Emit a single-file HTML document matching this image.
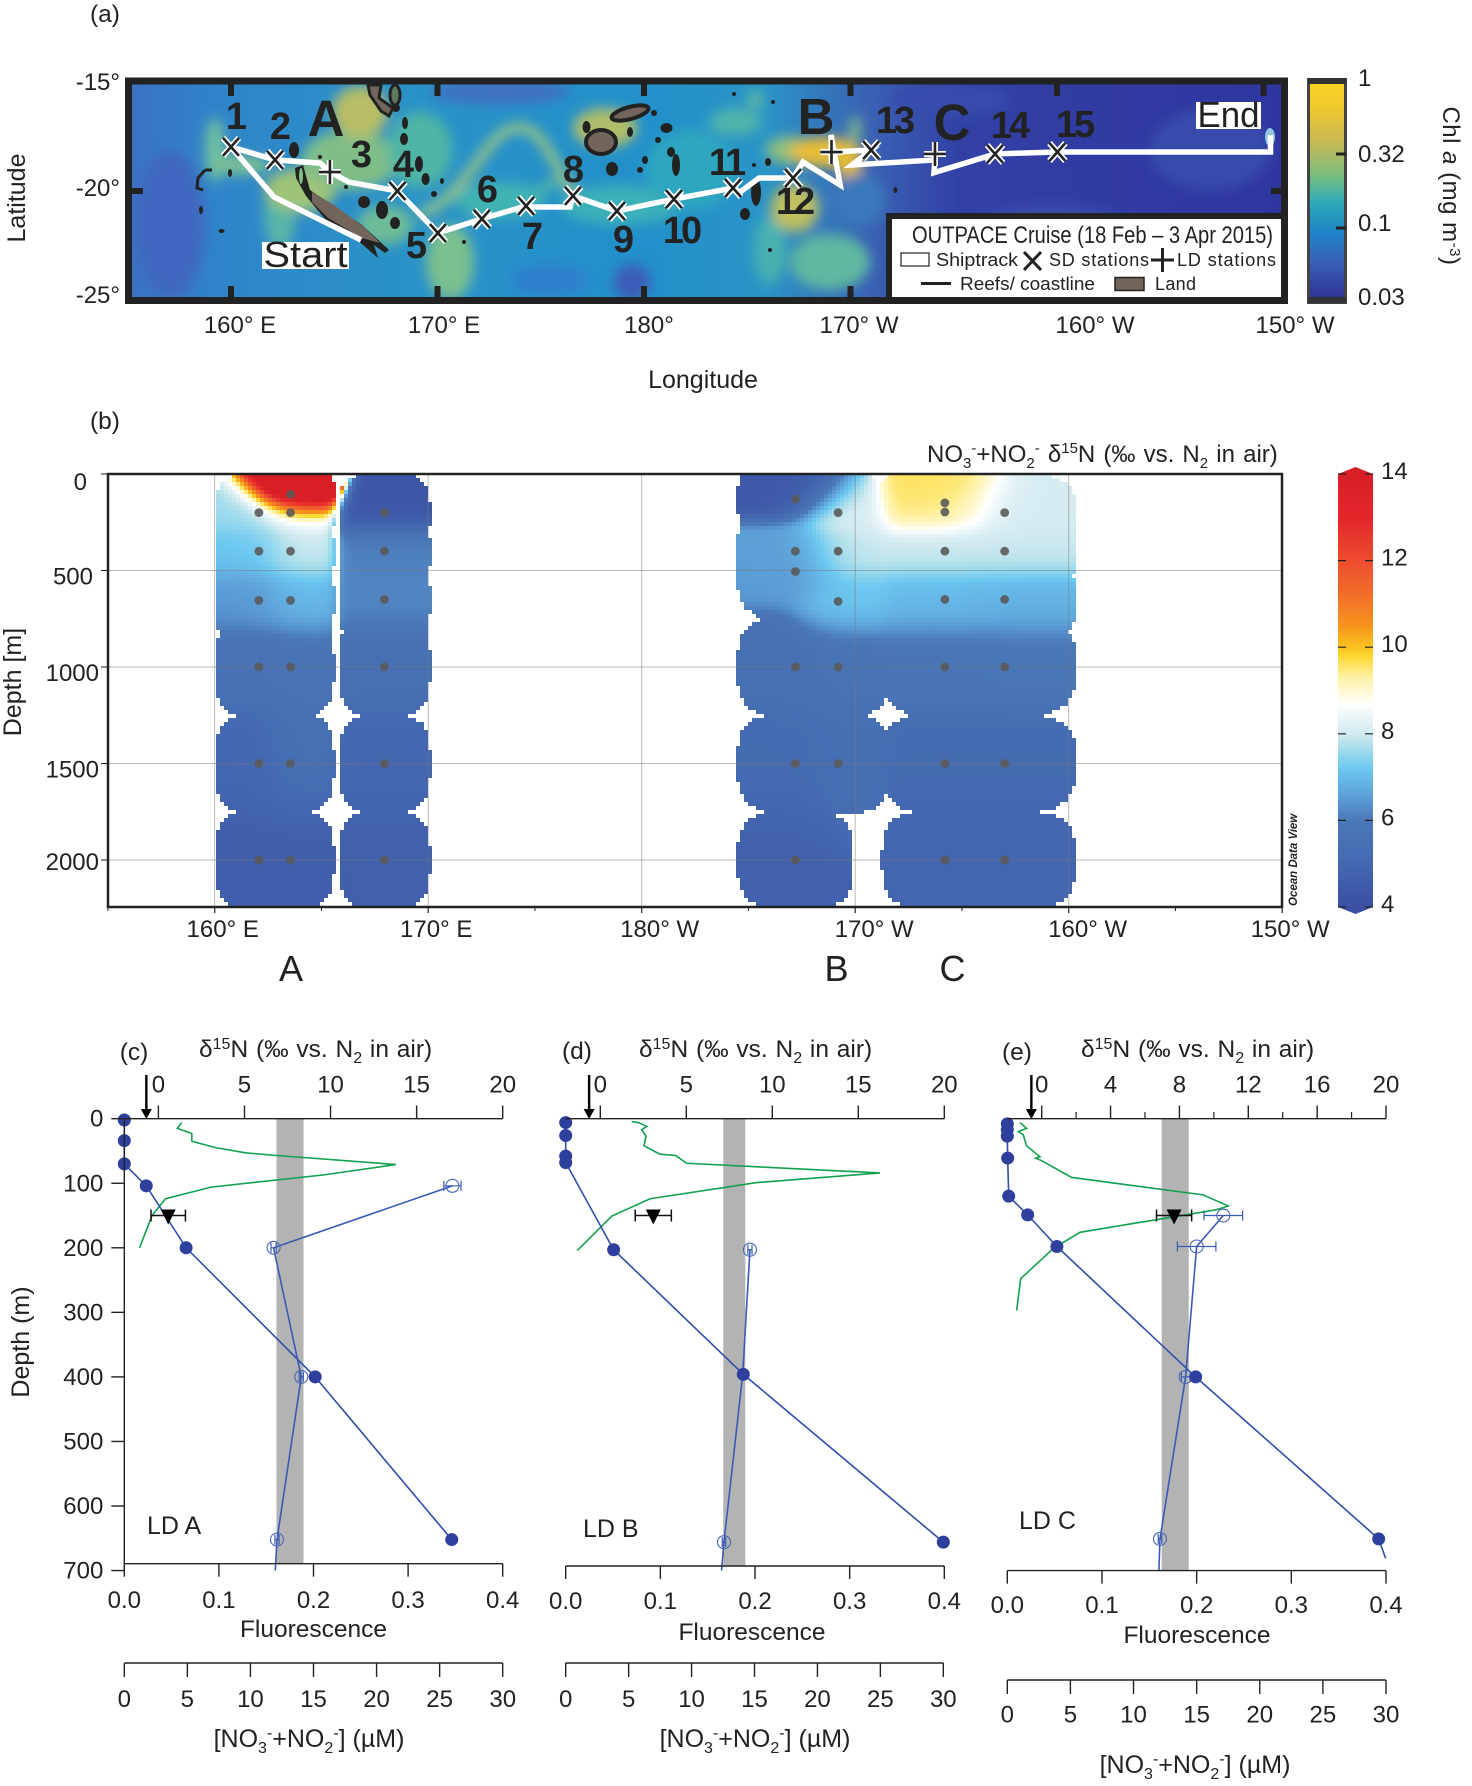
<!DOCTYPE html>
<html lang="en">
<head>
<meta charset="utf-8">
<title>OUTPACE cruise chlorophyll map and nitrate isotope profiles</title>
<style>
html,body{margin:0;padding:0;background:#fff;width:1472px;height:1786px;overflow:hidden}
svg{display:block}
text{font-family:"Liberation Sans",sans-serif;fill:#222}
</style>
</head>
<body>
<svg xmlns="http://www.w3.org/2000/svg" width="1472" height="1786" viewBox="0 0 1472 1786">
<defs>
<filter id="blurA" x="-30%" y="-30%" width="160%" height="160%"><feGaussianBlur stdDeviation="6"/></filter>
<clipPath id="mapClip"><rect x="132" y="84" width="1150" height="213"/></clipPath>
<clipPath id="sectionClip"><rect x="108" y="474" width="1174" height="433"/></clipPath>
<linearGradient id="mapBase" x1="0" x2="1" y1="0" y2="0">
<stop offset="0" stop-color="#3b72c2"/><stop offset="0.07" stop-color="#2f84c9"/><stop offset="0.24" stop-color="#2a92c8"/><stop offset="0.45" stop-color="#2290ca"/><stop offset="0.55" stop-color="#2a94c6"/><stop offset="0.64" stop-color="#3a62b4"/><stop offset="0.72" stop-color="#3240a4"/><stop offset="1" stop-color="#3036a0"/>
</linearGradient>
<linearGradient id="chlGradient" x1="0" x2="0" y1="0" y2="1">
<stop offset="0" stop-color="#fdd21f"/><stop offset="0.12" stop-color="#f0c92e"/><stop offset="0.28" stop-color="#c9b855"/><stop offset="0.42" stop-color="#7fbf7b"/><stop offset="0.55" stop-color="#2fabb5"/><stop offset="0.68" stop-color="#1f86c9"/><stop offset="0.82" stop-color="#3a5fb8"/><stop offset="1" stop-color="#2f2f8f"/>
</linearGradient>
</defs>

<!-- PANEL A -->
<text x="105" y="22" font-size="24.500" text-anchor="middle">(a)</text>
<g clip-path="url(#mapClip)">
<rect x="132" y="84" width="1150" height="213" fill="url(#mapBase)"/>
<g filter="url(#blurA)">
<ellipse cx="170" cy="225" rx="35" ry="75" fill="#3f68c0"/>
<ellipse cx="500" cy="92" rx="70" ry="12" fill="#3f6fc0"/>
<ellipse cx="215" cy="150" rx="10" ry="32" fill="#6fc0a0"/>
<ellipse cx="240" cy="165" rx="30" ry="10" fill="#7cc095"/>
<ellipse cx="280" cy="215" rx="16" ry="35" fill="#58b5a8"/>
<ellipse cx="300" cy="190" rx="36" ry="22" fill="#9fc478"/>
<ellipse cx="350" cy="160" rx="48" ry="30" fill="#80be88"/>
<ellipse cx="360" cy="112" rx="28" ry="26" fill="#b8bd66"/>
<ellipse cx="420" cy="150" rx="32" ry="38" fill="#4fb5a5"/>
<ellipse cx="450" cy="262" rx="24" ry="38" fill="#7bbf90"/>
<ellipse cx="385" cy="225" rx="28" ry="20" fill="#6dbb98"/>
<path d="M420 215C470 195 485 132 515 128S550 165 580 200" stroke="#9cc682" stroke-width="9" fill="none"/>
<path d="M470 220C500 210 520 200 560 180" stroke="#5cb8a0" stroke-width="8" fill="none"/>
<ellipse cx="605" cy="128" rx="32" ry="20" fill="#b0bd6a"/>
<ellipse cx="620" cy="205" rx="60" ry="20" fill="#3bb0b8"/>
<ellipse cx="500" cy="200" rx="45" ry="18" fill="#3fb3b4"/>
<ellipse cx="690" cy="170" rx="45" ry="40" fill="#2ea6c0"/>
<ellipse cx="735" cy="122" rx="26" ry="14" fill="#4fb3ac"/>
<ellipse cx="755" cy="100" rx="8" ry="10" fill="#5cb6a4"/>
<ellipse cx="790" cy="150" rx="24" ry="14" fill="#8cc080"/>
<ellipse cx="830" cy="262" rx="40" ry="28" fill="#5fb8a0"/>
<ellipse cx="770" cy="250" rx="16" ry="34" fill="#48b0b0"/>
<ellipse cx="795" cy="208" rx="24" ry="24" fill="#c0c060"/>
<ellipse cx="825" cy="152" rx="36" ry="15" fill="#e8bc35"/>
<ellipse cx="850" cy="165" rx="12" ry="20" fill="#e2b93a"/>
<ellipse cx="855" cy="130" rx="6" ry="14" fill="#80b888"/>
<ellipse cx="632" cy="282" rx="18" ry="18" fill="#3e5cb8"/>
<ellipse cx="550" cy="280" rx="40" ry="16" fill="#2f80cc"/>
<ellipse cx="860" cy="200" rx="26" ry="26" fill="#3a78bb"/>
<ellipse cx="1050" cy="225" rx="70" ry="20" fill="#3a4dac"/>
<ellipse cx="950" cy="100" rx="60" ry="16" fill="#394bac"/>
<ellipse cx="1210" cy="150" rx="60" ry="40" fill="#394bac"/>
</g>
<g fill="#222">
<path d="M205 170L198 178L197 188L203 190M205 170L212 170" stroke="#222" stroke-width="3" fill="none"/>
<ellipse cx="201" cy="210" rx="2" ry="4"/><ellipse cx="221.500" cy="231" rx="3" ry="2"/><ellipse cx="230" cy="173" rx="2" ry="4"/>
<ellipse cx="294" cy="150" rx="5" ry="8"/><ellipse cx="320" cy="157" rx="2" ry="2"/><ellipse cx="346" cy="187" rx="2" ry="2"/>
<ellipse cx="364" cy="202" rx="6" ry="6"/><ellipse cx="382" cy="210" rx="6" ry="9"/><ellipse cx="395" cy="223" rx="5" ry="6"/>
<ellipse cx="419" cy="164" rx="4" ry="8"/><ellipse cx="425.600" cy="179" rx="4" ry="6"/><ellipse cx="442" cy="181" rx="2" ry="3"/>
<ellipse cx="434" cy="194" rx="3" ry="3"/><ellipse cx="464" cy="242" rx="2" ry="2"/><ellipse cx="405" cy="123" rx="3" ry="6"/>
<ellipse cx="404" cy="139" rx="4" ry="6"/><ellipse cx="396" cy="108" rx="4" ry="4"/>
<ellipse cx="645" cy="160" rx="3" ry="4"/><ellipse cx="676" cy="165" rx="4" ry="11"/>
<ellipse cx="640" cy="170" rx="3" ry="3"/><ellipse cx="666.500" cy="128" rx="6" ry="5"/><ellipse cx="630" cy="132" rx="3" ry="5"/>
<ellipse cx="671" cy="152" rx="4" ry="5"/><ellipse cx="654" cy="113" rx="3" ry="3"/><ellipse cx="658" cy="140" rx="3" ry="3"/>
<ellipse cx="734" cy="94" rx="2" ry="2"/><ellipse cx="756" cy="192" rx="5" ry="14"/><ellipse cx="745" cy="214" rx="5" ry="6"/>
<ellipse cx="768" cy="162" rx="3" ry="4"/><ellipse cx="754" cy="165" rx="2" ry="2"/><ellipse cx="773" cy="102" rx="2" ry="2"/>
<ellipse cx="895.500" cy="190" rx="2" ry="3"/><ellipse cx="770" cy="250" rx="2" ry="2"/><ellipse cx="586.500" cy="127" rx="4" ry="6"/>
<ellipse cx="612" cy="169" rx="6" ry="7"/>
</g>
<polygon points="295,168 303,165 310,190 332,205 362,225 389,250 385,253 374,245 378,258 370,251 355,238 326,220 306,196 296,178" fill="#222"/>
<polygon points="312,192 334,205 364,227 380,243 362,238 328,218 312,202" fill="#73655c"/>
<ellipse cx="301" cy="176" rx="2" ry="8" fill="#7fbf8a"/>
<polygon points="368,85 381,85 379,98 393,108 389,116 381,111 370,95" fill="#73655c" stroke="#222" stroke-width="3"/>
<ellipse cx="395" cy="95" rx="5" ry="10" fill="#5b7a5c" stroke="#222" stroke-width="3"/>
<ellipse cx="601" cy="142" rx="15" ry="12" fill="#73655c" stroke="#222" stroke-width="4"/>
<ellipse cx="630" cy="113" rx="19" ry="6" transform="rotate(-15 630 113)" fill="#73655c" stroke="#222" stroke-width="4"/>
<ellipse cx="1270" cy="137" rx="5" ry="9" fill="#a8e8f0" opacity="0.8"/>
<g id="map-track-layer"></g>
</g>
<g id="map-ticks"></g>
<rect x="128.500" y="81" width="1156" height="219.500" fill="none" stroke="#222" stroke-width="7"/>

<g font-weight="bold" font-size="38" letter-spacing="-3" text-anchor="middle">
<text x="235" y="129">1</text>
<text x="279" y="139">2</text>
<text x="360" y="167">3</text>
<text x="402" y="177">4</text>
<text x="415" y="258">5</text>
<text x="486" y="202">6</text>
<text x="531" y="249">7</text>
<text x="572" y="182">8</text>
<text x="622" y="252">9</text>
<text x="681" y="243">10</text>
<text x="726" y="175">11</text>
<text x="794" y="214">12</text>
<text x="894" y="133">13</text>
<text x="1009" y="138">14</text>
<text x="1074" y="137">15</text>
</g>
<g font-weight="bold" font-size="51" text-anchor="middle" fill="#222">
<text x="326" y="136">A</text>
<text x="816" y="134">B</text>
<text x="952" y="140">C</text>
</g>
<rect x="262" y="242" width="87" height="27" fill="#fff"/>
<text x="305.500" y="267" font-size="36" text-anchor="middle" textLength="84" lengthAdjust="spacingAndGlyphs">Start</text>
<rect x="1196" y="102" width="65" height="27" fill="#fff"/>
<text x="1228.500" y="127" font-size="36" text-anchor="middle" textLength="62" lengthAdjust="spacingAndGlyphs">End</text>

<g>
<rect x="889" y="216" width="395" height="84" fill="#fff" stroke="#222" stroke-width="6"/>
<text x="912" y="243" font-size="24" textLength="361" lengthAdjust="spacingAndGlyphs">OUTPACE Cruise (18 Feb – 3 Apr 2015)</text>
<rect x="901" y="253" width="28" height="13" fill="#fff" stroke="#222" stroke-width="1.200"/>
<text x="936" y="266" font-size="18" textLength="82" lengthAdjust="spacingAndGlyphs">Shiptrack</text>
<path d="M1024 252L1041 270M1041 252L1024 270" stroke="#222" stroke-width="3"/>
<text x="1049" y="266" font-size="18" textLength="100" lengthAdjust="spacing">SD stations</text>
<path d="M1151 260H1174M1162.500 248V272" stroke="#222" stroke-width="3"/>
<text x="1177" y="266" font-size="18" textLength="99" lengthAdjust="spacing">LD stations</text>
<path d="M921 283.500H951" stroke="#222" stroke-width="3"/>
<text x="960" y="290" font-size="18" textLength="135" lengthAdjust="spacingAndGlyphs">Reefs/ coastline</text>
<rect x="1115" y="277.500" width="29" height="13" fill="#73655c" stroke="#222" stroke-width="1.500"/>
<text x="1155" y="290" font-size="18" textLength="41" lengthAdjust="spacing">Land</text>
</g>

<g font-size="24" text-anchor="end">
<text x="120" y="90">-15°</text>
<text x="120" y="196">-20°</text>
<text x="120" y="303">-25°</text>
</g>
<g font-size="24" text-anchor="middle">
<text x="240" y="333">160° E</text>
<text x="444" y="333">170° E</text>
<text x="649" y="333">180°</text>
<text x="859" y="333">170° W</text>
<text x="1095" y="333">160° W</text>
<text x="1295" y="333">150° W</text>
</g>
<text transform="translate(25,198) rotate(-90)" font-size="25" text-anchor="middle">Latitude</text>
<text x="703" y="388" font-size="25" text-anchor="middle">Longitude</text>

<rect x="1308.500" y="79.500" width="37" height="223" fill="url(#chlGradient)" stroke="#444" stroke-width="3"/>
<rect x="1308" y="78" width="38" height="6" fill="#333"/>
<rect x="1308" y="297" width="38" height="6" fill="#333"/>
<path d="M1336 154H1346M1336 228H1346" stroke="#222" stroke-width="3"/>
<g font-size="24">
<text x="1358" y="86">1</text>
<text x="1358" y="162">0.32</text>
<text x="1358" y="231">0.1</text>
<text x="1358" y="305">0.03</text>
</g>
<text transform="translate(1443,186) rotate(90)" font-size="24" text-anchor="middle" letter-spacing="0.5">Chl <tspan font-style="italic">a</tspan> (mg m<tspan dy="-7" font-size="15">-3</tspan><tspan dy="7">)</tspan></text>

<!-- PANEL B -->
<text x="105" y="429" font-size="24.500" text-anchor="middle">(b)</text>
<text x="927" y="462" font-size="24" word-spacing="1.500">NO<tspan dy="6" font-size="15">3</tspan><tspan dy="-15" font-size="15">-</tspan><tspan dy="9">+NO</tspan><tspan dy="6" font-size="15">2</tspan><tspan dy="-15" font-size="15">-</tspan><tspan dy="9"> δ</tspan><tspan dy="-9" font-size="15">15</tspan><tspan dy="9">N (‰ vs. N</tspan><tspan dy="6" font-size="15">2</tspan><tspan dy="-6"> in air)</tspan></text>
<g id="section-cells" clip-path="url(#sectionClip)"></g>
<g id="section-grid"></g>
<g id="section-dots"></g>
<rect x="108" y="474" width="1174" height="433" fill="none" stroke="#222" stroke-width="2.500"/>
<g id="section-axes"></g>
<text transform="translate(1297,906) rotate(-90)" font-size="11.500" font-weight="bold" font-style="italic">Ocean Data View</text>
<text transform="translate(21,682) rotate(-90)" font-size="25" text-anchor="middle">Depth [m]</text>
<g font-size="36" text-anchor="middle">
<text x="291" y="981">A</text>
<text x="836.500" y="981">B</text>
<text x="952.500" y="981">C</text>
</g>
<g id="section-colorbar"></g>

<!-- PANELS C D E -->
<g id="profile-c"></g>
<g id="profile-d"></g>
<g id="profile-e"></g>

<g font-size="24.500">
<text x="134" y="1060" text-anchor="middle">(c)</text>
<text x="577" y="1059" text-anchor="middle">(d)</text>
<text x="1017" y="1060" text-anchor="middle">(e)</text>
<text x="199" y="1057" word-spacing="1">δ<tspan dy="-8" font-size="16">15</tspan><tspan dy="8">N (‰ vs. N</tspan><tspan dy="6" font-size="16">2</tspan><tspan dy="-6"> in air)</tspan></text>
<text x="639" y="1057" word-spacing="1">δ<tspan dy="-8" font-size="16">15</tspan><tspan dy="8">N (‰ vs. N</tspan><tspan dy="6" font-size="16">2</tspan><tspan dy="-6"> in air)</tspan></text>
<text x="1081" y="1057" word-spacing="1">δ<tspan dy="-8" font-size="16">15</tspan><tspan dy="8">N (‰ vs. N</tspan><tspan dy="6" font-size="16">2</tspan><tspan dy="-6"> in air)</tspan></text>
<text x="313.500" y="1637" text-anchor="middle">Fluorescence</text>
<text x="752" y="1640" text-anchor="middle">Fluorescence</text>
<text x="1197" y="1643" text-anchor="middle">Fluorescence</text>
<text x="309" y="1747" font-size="25" text-anchor="middle">[NO<tspan dy="6" font-size="16">3</tspan><tspan dy="-15" font-size="16">-</tspan><tspan dy="9">+NO</tspan><tspan dy="6" font-size="16">2</tspan><tspan dy="-15" font-size="16">-</tspan><tspan dy="9">] (µM)</tspan></text>
<text x="755" y="1747" font-size="25" text-anchor="middle">[NO<tspan dy="6" font-size="16">3</tspan><tspan dy="-15" font-size="16">-</tspan><tspan dy="9">+NO</tspan><tspan dy="6" font-size="16">2</tspan><tspan dy="-15" font-size="16">-</tspan><tspan dy="9">] (µM)</tspan></text>
<text x="1195" y="1773" font-size="25" text-anchor="middle">[NO<tspan dy="6" font-size="16">3</tspan><tspan dy="-15" font-size="16">-</tspan><tspan dy="9">+NO</tspan><tspan dy="6" font-size="16">2</tspan><tspan dy="-15" font-size="16">-</tspan><tspan dy="9">] (µM)</tspan></text>
<text x="147" y="1534" font-size="25">LD A</text>
<text x="583" y="1537" font-size="25">LD B</text>
<text x="1019" y="1529" font-size="25">LD C</text>
<text transform="translate(29,1342) rotate(-90)" font-size="25" text-anchor="middle">Depth (m)</text>
</g>
</svg>

<script>
/* ---------- Panel (a) data ---------- */
const trackLon=[166.3,162.08,160,162.13,164.31,164.79,165.71,168.06,170.02,172.15,174.29,174.63,176.42,176.56,178.69,181.45,184.31,184.65,185.57,187.22,187.7,189.5,189.06,189.08,191,190.07,194.09,194.04,197,200.02,210.34,210.34];
const trackLat=[-22.3,-20.28,-17.93,-18.54,-18.69,-19.11,-19.58,-20,-21.97,-21.31,-20.7,-20.75,-20.75,-20.23,-20.94,-20.38,-19.86,-20.05,-19.39,-19.39,-18.64,-19.72,-17.37,-18.17,-18.08,-18.78,-18.54,-19.14,-18.26,-18.17,-18.17,-17.37];
const sdLon=[160,162.13,168.06,170.02,172.15,174.29,176.56,178.69,181.45,184.31,187.22,191,197,200.02];
const sdLat=[-17.93,-18.54,-20,-21.97,-21.31,-20.7,-20.23,-20.94,-20.38,-19.86,-19.39,-18.08,-18.26,-18.17];
const ldLon=[164.79,189.08,194.09];
const ldLat=[-19.11,-18.17,-18.26];
const mapLonTicks=[160,170,180,190,200,210];

/* ---------- Panel (b) data (one sub-array per station) ---------- */
const sectionLon=[162.07,163.55,167.95,187.2,189.2,194.2,197];
const sectionLonScale=[2.05,2.05,2.15,2.72,2.45,2.95,3.35];
const sectionDepths=[
 [200,400,655,1000,1500,2000],
 [105,200,400,655,1000,1500,2000],
 [200,400,650,1000,1500,2000],
 [130,400,505,1000,1500,2000],
 [200,400,660,1000,1500],
 [150,197,400,650,1000,1500,2000],
 [200,400,650,1000,1500,2000]];
const sectionValues=[
 [7.6,7.2,6.5,5.6,5.0,4.6],
 [18,8.6,8.0,7.0,5.7,5.5,4.6],
 [4.3,6.1,6.2,5.5,5.0,4.7],
 [4.4,6.6,6.5,5.5,5.2,4.7],
 [8.2,8.0,7.2,5.7,5.4],
 [9.7,9.3,8.0,7.0,5.8,5.2,4.9],
 [8.1,8.0,6.9,5.9,5.2,4.9]];
const sectionDepthTicks=[0,500,1000,1500,2000];
const sectionLonTicks=[160,170,180,190,200,210];
const sectionLonLabels=['160° E','170° E','180° W','170° W','160° W','150° W'];
const colorbarTicks=[4,6,8,10,12,14];
const scaleValues=[4,5,6,6.5,7.2,7.8,8,8.7,9.3,9.8,10,10.5,11.3,12,13,14];
const scaleColors=['#3a4fa3','#4468b0','#4a78b8','#5b9bd5','#6cc8f0','#b5e2ec','#cfe9ef','#ffffff','#fff2a8','#fdd835','#fbc31f','#f7941d','#f26a2a','#ee4d2e','#e4262a','#d81f26'];

/* ---------- Panels (c)(d)(e) data ---------- */
const depthTicks=[0,100,200,300,400,500,600,700];
const fluorTicks=[0,0.1,0.2,0.3,0.4];
const nitrateTicks=[0,5,10,15,20,25,30];
const deltaTicksCD=[0,5,10,15,20];
const deltaTicksE=[0,4,8,12,16,20];
const deltaMinorE=[2,6,10,14,18];

const cNitrateDepth=[2,34,70,104,200,400,652];
const cNitrate=[0,0,0,1.74,4.9,15.13,25.96];
const cDeltaDepth=[104,200,400,652,700];
const cDelta=[17.08,6.69,8.3,6.89,6.79];
const cDeltaErr=[0.5,0.15,0.12,0.12];
const cFluorDepth=[6,15,23,35,45,53,57,71,87,106,124,150,200];
const cFluor=[0.0607,0.0561,0.0714,0.0714,0.0971,0.129,0.161,0.287,0.211,0.0918,0.0436,0.0293,0.0161];
const cBand=[6.86,8.43];
const cSurface=[0.57,150,1.0];
const cArrow=-0.7;

const dNitrateDepth=[6,26,58,68,203,396,656];
const dNitrate=[0,0,0,0,3.81,14.11,30];
const dDeltaDepth=[203,396,656,700];
const dDelta=[8.7,8.28,7.19,7.05];
const dDeltaErr=[0.12,0,0.1];
const dFluorDepth=[4.5,6,12,17,27,42,55,57,69,84,99,124,151,204];
const dFluor=[0.0697,0.0768,0.0856,0.0803,0.0849,0.0827,0.0996,0.1162,0.1278,0.332,0.2018,0.0891,0.0486,0.0123];
const dBand=[7.15,8.43];
const dSurface=[3.08,150,1.05];
const dArrow=-0.65;

const eNitrateDepth=[8,17,27,61,120,149,198,400,651,681];
const eNitrate=[0,0,0,0.03,0.11,1.61,3.93,14.92,29.42,29.97];
const eDeltaDepth=[150,198,400,651,700];
const eDelta=[10.55,9.0,8.36,6.87,6.81];
const eDeltaErr=[1.12,1.12,0.25,0.1];
const eFluorDepth=[6,15,20,25,42,59,61,65,91,118,121,135,141,176,201,248,297];
const eFluor=[0.0134,0.0204,0.0116,0.0169,0.0204,0.0345,0.0299,0.0363,0.068,0.207,0.2113,0.2335,0.2211,0.0768,0.0486,0.0141,0.0099];
const eBand=[6.97,8.54];
const eSurface=[7.69,150,1.02];
const eArrow=-0.6;

const NS='http://www.w3.org/2000/svg';
function node(parent,tag,attrs,txt){
  const n=document.createElementNS(NS,tag);
  for(const k in attrs){n.setAttribute(k,attrs[k]);}
  if(txt!==undefined){n.textContent=txt;}
  parent.appendChild(n);
  return n;
}
let el;

/* ---------- Panel (a) drawing ---------- */
const mapX=lon=>231+(lon-160)*20.65;
const mapY=lat=>191+(-20-lat)*21.3;
const trackLayer=document.getElementById('map-track-layer');
el=node(trackLayer,'polyline',{points:trackLon.map((v,i)=>mapX(v)+','+mapY(trackLat[i])).join(' '),fill:'none',stroke:'#fff','stroke-width':5.5,'stroke-linejoin':'miter'});


sdLon.forEach((lon,i)=>{
  const x=mapX(lon),y=mapY(sdLat[i]);
  const d=`M${x-8} ${y-9}L${x+8} ${y+9}M${x+8} ${y-9}L${x-8} ${y+9}`;
  node(trackLayer,'path',{d:d,stroke:'#fff','stroke-width':6,fill:'none'});
  el=node(trackLayer,'path',{d:d,stroke:'#222','stroke-width':2.6,fill:'none'});
  
  
});
ldLon.forEach((lon,i)=>{
  const x=mapX(lon),y=mapY(ldLat[i]);
  const d=`M${x-11} ${y}H${x+11}M${x} ${y-12}V${y+12}`;
  node(trackLayer,'path',{d:d,stroke:'#fff','stroke-width':6,fill:'none'});
  el=node(trackLayer,'path',{d:d,stroke:'#222','stroke-width':2.6,fill:'none'});
  
  
});
const mapTicks=document.getElementById('map-ticks');
mapLonTicks.forEach(lon=>{
  const x=mapX(lon);
  el=node(mapTicks,'path',{d:`M${x} 84V96M${x} 286V297`,stroke:'#222','stroke-width':6});
  
  
});
el=node(mapTicks,'path',{d:`M132 ${mapY(-20)}H143M1271 ${mapY(-20)}H1282`,stroke:'#222','stroke-width':6});



/* ---------- Panel (b) drawing ---------- */
const secX=lon=>214.7+(lon-160)*21.35;
const secY=d=>474+d*0.193;
function hex(h){return [parseInt(h.slice(1,3),16),parseInt(h.slice(3,5),16),parseInt(h.slice(5,7),16)];}
function scaleColor(v){
  if(v<=scaleValues[0]){return scaleColors[0];}
  for(let i=1;i<scaleValues.length;i++){
    if(v<=scaleValues[i]){
      const t=(v-scaleValues[i-1])/(scaleValues[i]-scaleValues[i-1]);
      const a=hex(scaleColors[i-1]),b=hex(scaleColors[i]);
      return 'rgb('+a.map((c,k)=>Math.round(c+(b[k]-c)*t)).join(',')+')';
    }
  }
  return scaleColors[scaleColors.length-1];
}
const samples=[];
sectionLon.forEach((lon,i)=>{
  const rx=sectionLonScale[i]*21.35;
  sectionDepths[i].forEach((d,j)=>{
    samples.push({x:secX(lon),y:secY(d),rx:rx,ry:d<300?40:(d>=1000?50:49),sy:14+d*0.024,v:sectionValues[i][j]});
  });
});
const cellLayer=document.getElementById('section-cells');
const CELL=4;
for(let py=474;py<907;py+=CELL){
  for(let px=108;px<1282;px+=CELL){
    const cx=px+CELL/2,cy=py+CELL/2;
    let inside=false,sw=0,sv=0;
    for(const s of samples){
      const dx=cx-s.x,dy=cy-s.y;
      if(!inside&&Math.pow(Math.abs(dx/s.rx),3.2)+Math.pow(Math.abs(dy/s.ry),3.2)<1){inside=true;}
      const hx=dx/(s.rx*0.6),hy=dy/s.sy;
      const w=Math.exp(-(hx*hx+hy*hy));
      sw+=w;sv+=w*s.v;
    }
    if(!inside||sw<=0){continue;}
    el=node(cellLayer,'rect',{x:px,y:py,width:CELL,height:CELL,fill:scaleColor(sv/sw),'shape-rendering':'crispEdges'});
    
    
  }
}
const gridLayer=document.getElementById('section-grid');
sectionLonTicks.slice(0,5).forEach(lon=>{
  el=node(gridLayer,'line',{x1:secX(lon),x2:secX(lon),y1:474,y2:907,stroke:'#777','stroke-opacity':0.5,'stroke-width':1});
  
  
});
sectionDepthTicks.slice(1).forEach(d=>{
  el=node(gridLayer,'line',{x1:108,x2:1282,y1:secY(d),y2:secY(d),stroke:'#777','stroke-opacity':0.5,'stroke-width':1});
  
  
});
const dotLayer=document.getElementById('section-dots');
samples.forEach(s=>{
  el=node(dotLayer,'circle',{cx:s.x,cy:s.y,r:4.4,fill:'#5a5a5a','fill-opacity':0.9});
  
  
});
const secAxes=document.getElementById('section-axes');
sectionLonTicks.forEach((lon,i)=>{
  el=node(secAxes,'line',{x1:secX(lon),x2:secX(lon),y1:907,y2:913,stroke:'#222','stroke-width':1.2});
  
  
  el=node(secAxes,'text',{x:secX(lon)+(i<2?8:(i===2?18:(i===5?8:19))),y:937,'font-size':24,'text-anchor':'middle'},sectionLonLabels[i]);
  
  
});
sectionLonTicks.slice(0,5).forEach(lon=>{
  el=node(secAxes,'line',{x1:secX(lon+5),x2:secX(lon+5),y1:907,y2:911,stroke:'#222','stroke-width':1});
  
  
});
el=node(secAxes,'line',{x1:secX(155),x2:secX(155),y1:907,y2:911,stroke:'#222','stroke-width':1});


sectionDepthTicks.forEach(d=>{
  el=node(secAxes,'line',{x1:101,x2:108,y1:secY(d),y2:secY(d),stroke:'#222','stroke-width':1});
  
  
  const s=String(d);
  el=node(secAxes,'text',{x:99-6*Math.min(2,4-s.length),y:secY(d)+(d===2000?10:(d===0?16:14)),'font-size':24,'text-anchor':'end'},s);
  
  
});
const cbar=document.getElementById('section-colorbar');
const cbarY=v=>907-(v-4)*43.3;
for(let v=4;v<14;v+=0.08){
  el=node(cbar,'rect',{x:1338,y:cbarY(v+0.08),width:35,height:43.3*0.08+0.6,fill:scaleColor(v+0.04),'shape-rendering':'crispEdges'});
  
  
}
el=node(cbar,'polygon',{points:'1338,474 1355.500,467 1373,474',fill:scaleColors[15]});


el=node(cbar,'polygon',{points:'1338,907 1355.500,914 1373,907',fill:scaleColors[0]});


colorbarTicks.forEach(v=>{
  el=node(cbar,'path',{d:`M1338 ${cbarY(v)}H1346M1365 ${cbarY(v)}H1373`,stroke:'#222','stroke-width':1.2});
  
  
  el=node(cbar,'text',{x:1381,y:cbarY(v)+5,'font-size':24},String(v));
  
  
});

/* ---------- Profiles ---------- */
const DEPTH_SCALE=0.6455;
function drawProfile(layerId,geo,s){
  const g=document.getElementById(layerId);
  const X_F=v=>geo.x0+v/0.4*(geo.x1-geo.x0);
  const X_N=v=>geo.x0+v/30*(geo.nx1-geo.x0);
  const X_D=v=>geo.d0+v/20*(geo.x1-geo.d0);
  const Y=d=>1118.7+d*DEPTH_SCALE;
  const blue='#2f4ea8';
  el=node(g,'rect',{x:X_D(s.band[0]),y:1118.7,width:X_D(s.band[1])-X_D(s.band[0]),height:geo.yF-1118.7,fill:'#b3b3b3'});
  
  
  el=node(g,'polyline',{points:s.fluor.map((v,i)=>X_F(v)+','+Y(s.fluorDepth[i])).join(' '),fill:'none',stroke:'#12a150','stroke-width':1.6});
  
  
  el=node(g,'polyline',{points:s.nitrate.map((v,i)=>X_N(v)+','+Y(s.nitrateDepth[i])).join(' '),fill:'none',stroke:blue,'stroke-width':1.6});
  
  
  el=node(g,'polyline',{points:s.delta.map((v,i)=>X_D(v)+','+Y(s.deltaDepth[i])).join(' '),fill:'none',stroke:'#3a5ab5','stroke-width':1.6});
  
  
  s.deltaErr.forEach((err,i)=>{
    const cx=X_D(s.delta[i]),cy=Y(s.deltaDepth[i]);
    if(err>0){
      const a=X_D(s.delta[i]-err),b=X_D(s.delta[i]+err);
      el=node(g,'path',{d:`M${a} ${cy}H${b}M${a} ${cy-5}V${cy+5}M${b} ${cy-5}V${cy+5}`,stroke:'#3a5ab5','stroke-width':1.2,fill:'none'});
      
      
      el=node(g,'circle',{cx:cx,cy:cy,r:6.5,fill:'none',stroke:'#4a66b5','stroke-width':1.1});
      
      
    }
  });
  s.nitrate.forEach((v,i)=>{
    if(i>=s.nitrateMarkers){return;}
    el=node(g,'circle',{cx:X_N(v),cy:Y(s.nitrateDepth[i]),r:6.5,fill:'#2e3f9e'});
    
    
  });
  const tx=X_D(s.surface[0]),ty=Y(s.surface[1]),a=X_D(s.surface[0]-s.surface[2]),b=X_D(s.surface[0]+s.surface[2]);
  el=node(g,'path',{d:`M${a} ${ty}H${b}M${a} ${ty-6}V${ty+6}M${b} ${ty-6}V${ty+6}`,stroke:'#111','stroke-width':1.5,fill:'none'});
  
  
  el=node(g,'polygon',{points:`${tx-7.5},${ty-6} ${tx+7.5},${ty-6} ${tx},${ty+9}`,fill:'#000'});
  
  
  const ax=X_D(s.arrow);
  el=node(g,'path',{d:`M${ax} 1075V1112`,stroke:'#000','stroke-width':2.4,fill:'none'});
  
  
  el=node(g,'polygon',{points:`${ax-5.5},1109 ${ax+5.5},1109 ${ax},1119`,fill:'#000'});
  
  
  const ink='#222';
  el=node(g,'line',{x1:geo.x0,x2:geo.x1,y1:1118.7,y2:1118.7,stroke:ink,'stroke-width':1.4});
  
  
  s.deltaTicks.forEach(v=>{
    el=node(g,'line',{x1:X_D(v),x2:X_D(v),y1:1105.5,y2:1118.7,stroke:ink,'stroke-width':1.4});
    
    
    el=node(g,'text',{x:X_D(v),y:1092.5,'font-size':24,'text-anchor':'middle'},String(v));
    
    
  });
  s.deltaMinor.forEach(v=>{
    el=node(g,'line',{x1:X_D(v),x2:X_D(v),y1:1112,y2:1118.7,stroke:ink,'stroke-width':1.2});
    
    
  });
  el=node(g,'line',{x1:geo.x0,x2:geo.x1,y1:geo.yF,y2:geo.yF,stroke:ink,'stroke-width':1.4});
  
  
  fluorTicks.forEach(v=>{
    el=node(g,'line',{x1:X_F(v),x2:X_F(v),y1:geo.yF,y2:geo.yF+13,stroke:ink,'stroke-width':1.4});
    
    
    el=node(g,'text',{x:X_F(v),y:geo.yFL+8,'font-size':24,'text-anchor':'middle'},v.toFixed(1));
    
    
  });
  el=node(g,'line',{x1:geo.x0,x2:geo.nx1,y1:geo.yN,y2:geo.yN,stroke:ink,'stroke-width':1.4});
  
  
  nitrateTicks.forEach(v=>{
    el=node(g,'line',{x1:X_N(v),x2:X_N(v),y1:geo.yN,y2:geo.yN+14,stroke:ink,'stroke-width':1.4});
    
    
    el=node(g,'text',{x:X_N(v),y:geo.yNL+8,'font-size':24,'text-anchor':'middle'},String(v));
    
    
  });
  if(geo.depthAxis){
    el=node(g,'line',{x1:geo.x0,x2:geo.x0,y1:1118.7,y2:Y(700),stroke:ink,'stroke-width':1.4});
    
    
    depthTicks.forEach(d=>{
      el=node(g,'line',{x1:geo.x0-13,x2:geo.x0,y1:Y(d),y2:Y(d),stroke:ink,'stroke-width':1.4});
      
      
      el=node(g,'text',{x:geo.x0-21,y:Y(d)+8,'font-size':24,'text-anchor':'end'},String(d));
      
      
    });
  }
}
drawProfile('profile-c',{x0:124.3,x1:502.7,nx1:502.7,d0:158.4,yF:1563.7,yFL:1600,yN:1663,yNL:1699,depthAxis:true},
 {nitrate:cNitrate,nitrateDepth:cNitrateDepth,nitrateMarkers:7,delta:cDelta,deltaDepth:cDeltaDepth,deltaErr:cDeltaErr,fluor:cFluor,fluorDepth:cFluorDepth,band:cBand,surface:cSurface,arrow:cArrow,deltaTicks:deltaTicksCD,deltaMinor:[]});
drawProfile('profile-d',{x0:565.7,x1:944.3,nx1:943.3,d0:600.3,yF:1566,yFL:1601,yN:1663,yNL:1699,depthAxis:false},
 {nitrate:dNitrate,nitrateDepth:dNitrateDepth,nitrateMarkers:7,delta:dDelta,deltaDepth:dDeltaDepth,deltaErr:dDeltaErr,fluor:dFluor,fluorDepth:dFluorDepth,band:dBand,surface:dSurface,arrow:dArrow,deltaTicks:deltaTicksCD,deltaMinor:[]});
drawProfile('profile-e',{x0:1007.3,x1:1386,nx1:1386,d0:1041.7,yF:1570.6,yFL:1605,yN:1680,yNL:1714.7,depthAxis:false},
 {nitrate:eNitrate,nitrateDepth:eNitrateDepth,nitrateMarkers:9,delta:eDelta,deltaDepth:eDeltaDepth,deltaErr:eDeltaErr,fluor:eFluor,fluorDepth:eFluorDepth,band:eBand,surface:eSurface,arrow:eArrow,deltaTicks:deltaTicksE,deltaMinor:deltaMinorE});
</script>
</body>
</html>
